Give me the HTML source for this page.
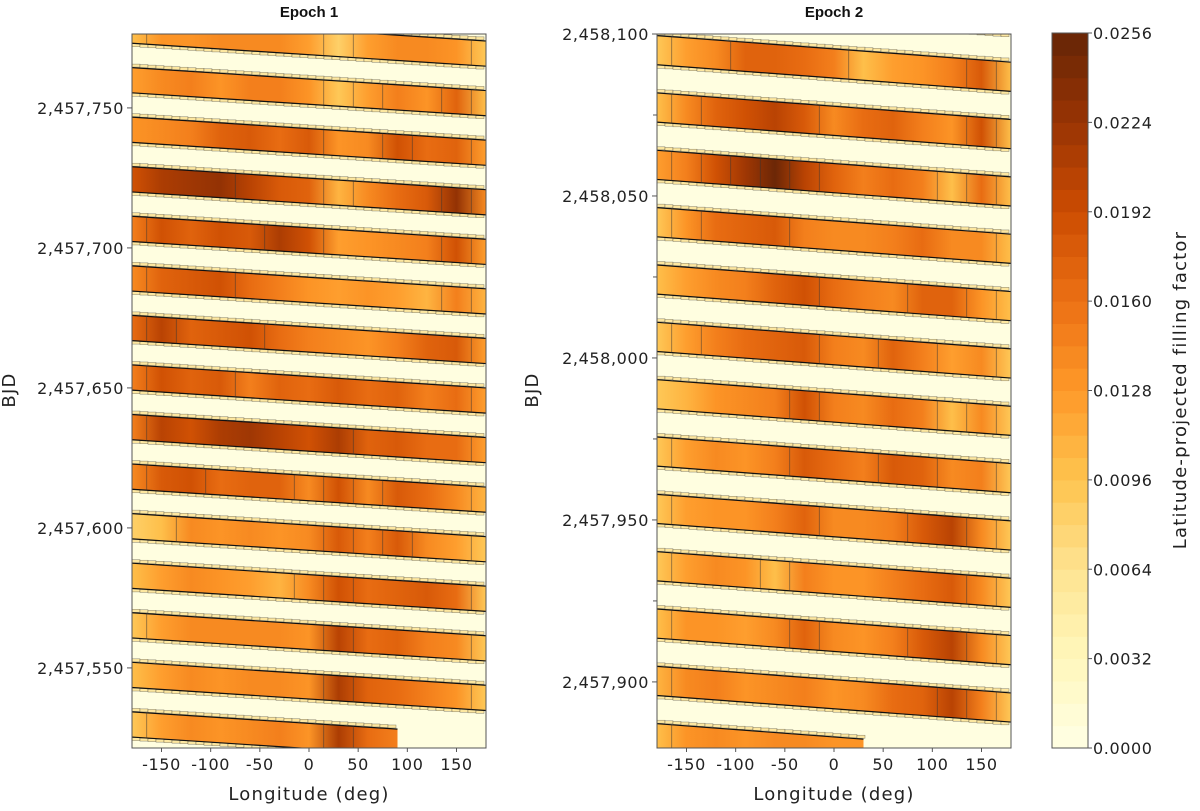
<!DOCTYPE html>
<html><head><meta charset="utf-8">
<style>
html,body{margin:0;padding:0;background:#fff;}
svg{display:block;font-family:"DejaVu Sans","Liberation Sans",sans-serif;}
.tick{font-size:16px;fill:#222;letter-spacing:0.6px;}
.lab{font-size:18px;fill:#222;letter-spacing:1.2px;}
.ttl{font-family:"Liberation Sans Narrow","Liberation Sans",sans-serif;font-weight:bold;font-size:15px;fill:#111;}
</style></head>
<body>
<svg id="chart" width="1200" height="811" viewBox="0 0 1200 811">
<defs id="defs"></defs>
<g id="p1"></g>
<g id="p2"></g>
<g id="cb"></g>
</svg>
<script>
// longitude sample points (deg)
const lons = [-180,-150,-120,-90,-60,-30,0,30,60,90,120,150,180];
// Epoch 1 band values (x1e-3 filling factor), top to bottom; null = no data
const epoch1Bands = [
 [12,12,12,12,12,12,12,12,13,13,14,14,12],
 [10,13,13,14,14,14,12,8,12,14,14,13,9],
 [12,14,15,13,15,15,13,9,12,15,13,17,10],
 [13,14,15,17,18,16,18,13,14,19,16,17,12],
 [19,21,22,23,20,18,17,11,14,16,18,23,14],
 [15,19,17,19,18,21,19,12,13,14,15,19,12],
 [14,17,18,19,16,15,13,12,13,12,11,15,11],
 [16,20,17,18,19,16,15,14,13,15,17,18,12],
 [15,19,17,18,15,17,16,18,16,17,15,16,12],
 [15,20,19,21,22,20,19,21,17,18,16,16,12],
 [14,18,19,16,17,17,14,19,14,18,16,14,11],
 [8,10,14,13,14,13,14,18,15,18,14,12,9],
 [10,12,14,13,12,11,14,19,16,17,18,16,9],
 [9,12,14,14,14,14,13,20,16,17,15,14,9],
 [10,12,14,13,14,14,13,21,17,16,15,13,9],
 [9,12,14,13,14,15,13,21,16,15,null,null,null]
];
// Epoch 2 band values (x1e-3)
const epoch2Bands = [
 [12,12,12,12,12,12,12,14,15,16,20,16,10],
 [9,12,14,17,17,16,15,10,12,13,15,18,10],
 [10,14,17,19,20,18,14,16,17,15,13,19,10],
 [12,15,19,22,25,20,17,15,16,15,10,16,10],
 [9,13,16,17,18,15,14,14,15,16,14,14,10],
 [10,12,14,15,17,19,16,15,14,17,17,13,10],
 [9,12,15,16,17,18,15,14,17,15,12,14,9],
 [9,11,13,14,15,19,15,14,16,15,10,14,9],
 [9,12,14,13,15,18,16,15,18,17,14,15,9],
 [9,12,13,13,15,17,14,14,15,18,20,14,9],
 [9,12,14,13,10,15,13,13,15,16,18,14,9],
 [10,13,13,12,14,17,14,13,15,18,20,14,9],
 [11,14,15,13,14,15,13,14,16,17,20,15,9],
 [10,13,14,13,14,14,13,13,null,null,null,null,null]
];
// band start days (top edge at lon -180) of first band in each epoch
const epoch1Start = [2457799.8];
const epoch2Start = [2458117.2];
const bandPeriod = [17.7];
const bandDrift = [8.2];
const bandWidth = [9.0];
const e1YTicks = [2457550,2457600,2457650,2457700,2457750];
const e2YTicks = [2457900,2457950,2458000,2458050,2458100];
const e2MinorTicks = [2457925,2457975,2458025,2458075];
const xTicks = [-150,-100,-50,0,50,100,150];
const cbTicks = [0,0.0032,0.0064,0.0096,0.0128,0.016,0.0192,0.0224,0.0256];

const NS="http://www.w3.org/2000/svg";
function mk(tag,attrs,parent){const e=document.createElementNS(NS,tag);for(const k in attrs)e.setAttribute(k,attrs[k]);if(parent)parent.appendChild(e);return e;}
const ylorbr=[[255,255,229],[255,247,188],[254,227,145],[254,196,79],[254,153,41],[236,112,20],[204,76,2],[153,52,4],[102,37,6]];
function cmap(t){t=Math.max(0,Math.min(1,t));const p=t*8,i=Math.min(7,Math.floor(p)),f=p-i;const a=ylorbr[i],b=ylorbr[i+1];
 return `rgb(${Math.round(a[0]+(b[0]-a[0])*f)},${Math.round(a[1]+(b[1]-a[1])*f)},${Math.round(a[2]+(b[2]-a[2])*f)})`;}
function colorFor(v){const lvl=Math.min(31,Math.max(0,Math.floor(v/25.6*32)));return cmap((lvl+0.5)/32);}
const defs=document.getElementById('defs');
let gid=0;

function panel(g,bands,start,x0,x1,y0,y1,dTop,dBot,yTicks,minor,title,clipId){
 const X=l=>x0+(l+180)/360*(x1-x0);
 const Y=d=>y0+(dTop-d)/(dTop-dBot)*(y1-y0);
 const cp=mk('clipPath',{id:clipId},defs);mk('rect',{x:x0,y:y0,width:x1-x0,height:y1-y0},cp);
 const bg=mk('rect',{x:x0,y:y0,width:x1-x0,height:y1-y0,fill:colorFor(0)},g);
 
 
 const inner=mk('g',{'clip-path':`url(#${clipId})`},g);
 bands.forEach((vals,k)=>{
  const D=start-bandPeriod[0]*k;
  const top=l=>D-bandDrift[0]*(l+180)/360;
  let last=lons.length-1;while(vals[last]===null)last--;
  const lEnd=lons[last];
  const id='bg'+(gid++);
  const lg=mk('linearGradient',{id:id,gradientUnits:'userSpaceOnUse',x1:X(-180),y1:0,x2:X(180),y2:0},defs);
  vals.forEach((v,i)=>{if(v===null)return;mk('stop',{offset:(lons[i]+180)/360,'stop-color':colorFor(v)},lg);});
  const pts=[[X(-180),Y(top(-180))],[X(lEnd),Y(top(lEnd))],[X(lEnd),Y(top(lEnd)-bandWidth[0])],[X(-180),Y(top(-180)-bandWidth[0])]];
  const band=mk('polygon',{points:pts.map(p=>p.join(',')).join(' '),fill:`url(#${id})`},inner);
  
  
  const step=8;
  for(let x=X(-180);x<X(lEnd)-2;x+=step){
   const l=(x-x0)/(x1-x0)*360-180;
   const yt=Y(top(l)), yb=Y(top(l)-bandWidth[0]);
   mk('rect',{x:x,y:yt-3.5,width:step,height:3,fill:'#fde7a0',stroke:'#333','stroke-width':0.5,'stroke-opacity':0.6},inner);
   mk('rect',{x:x,y:yb+0.5,width:step,height:3,fill:'#fde7a0',stroke:'#333','stroke-width':0.5,'stroke-opacity':0.6},inner);
  }
  mk('line',{x1:X(-180),y1:Y(top(-180)),x2:X(lEnd),y2:Y(top(lEnd)),stroke:'#111','stroke-width':1.2},inner);
  mk('line',{x1:X(-180),y1:Y(top(-180)-bandWidth[0]),x2:X(lEnd),y2:Y(top(lEnd)-bandWidth[0]),stroke:'#111','stroke-width':1.2},inner);
  for(let i=1;i<=last;i++){
   if(vals[i-1]===null)continue;
   const lm=(lons[i-1]+lons[i])/2;
   if(Math.abs(vals[i]-vals[i-1])>=3){
    mk('line',{x1:X(lm),y1:Y(top(lm)),x2:X(lm),y2:Y(top(lm)-bandWidth[0]),stroke:'#333','stroke-width':0.7,'stroke-opacity':0.7},inner);
   }
  }
 });
 const fr=mk('rect',{x:x0,y:y0,width:x1-x0,height:y1-y0,fill:'none',stroke:'#555','stroke-width':1},g);
 
 
 xTicks.forEach(t=>{
  mk('line',{x1:X(t),y1:y1,x2:X(t),y2:y1+4,stroke:'#555'},g);
  const tx=mk('text',{x:X(t),y:y1+22,'text-anchor':'middle',class:'tick'},g);tx.textContent=t;
  
  
 });
 yTicks.forEach(t=>{
  mk('line',{x1:x0-5,y1:Y(t),x2:x0,y2:Y(t),stroke:'#555'},g);
  const tx=mk('text',{x:x0-8,y:Y(t)+6,'text-anchor':'end',class:'tick'},g);tx.textContent=t.toLocaleString('en-US');
  
  
 });
 minor.forEach(t=>{mk('line',{x1:x0-4,y1:Y(t),x2:x0,y2:Y(t),stroke:'#555'},g);});
 const tt=mk('text',{x:(x0+x1)/2,y:17,'text-anchor':'middle',class:'ttl'},g);tt.textContent=title;
 
 
 const xl=mk('text',{x:(x0+x1)/2,y:800,'text-anchor':'middle',class:'lab'},g);xl.textContent='Longitude (deg)';
 
 
 return Y;
}
panel(document.getElementById('p1'),epoch1Bands,epoch1Start[0],132,486,34,748,2457776.4,2457521.4,e1YTicks,[],'Epoch 1','c1');
panel(document.getElementById('p2'),epoch2Bands,epoch2Start[0],657,1011,34,748,2458100,2457879.6,e2YTicks,e2MinorTicks,'Epoch 2','c2');
[[15,390],[538,390]].forEach(p=>{
 const t=mk('text',{x:p[0],y:p[1],transform:`rotate(-90 ${p[0]} ${p[1]})`,'text-anchor':'middle',class:'lab'},document.getElementById('chart'));
 t.textContent='BJD';
 
 
});
const cb=document.getElementById('cb');
const cx0=1052,cx1=1088,cy0=33,cy1=748;
for(let i=0;i<32;i++){
 const h=(cy1-cy0)/32;
 const r=mk('rect',{x:cx0,y:cy1-(i+1)*h,width:cx1-cx0,height:h+0.5,fill:cmap((i+0.5)/32)},cb);
 
 
}
mk('rect',{x:cx0,y:cy0,width:cx1-cx0,height:cy1-cy0,fill:'none',stroke:'#555'},cb);
cbTicks.forEach(v=>{
 const y=cy1-v/0.0256*(cy1-cy0);
 mk('line',{x1:cx1,y1:y,x2:cx1+4,y2:y,stroke:'#555'},cb);
 const t=mk('text',{x:cx1+5,y:y+6,class:'tick'},cb);t.textContent=v.toFixed(4);
 
 
});
const cl=mk('text',{x:1186,y:390,transform:'rotate(-90 1186 390)','text-anchor':'middle',class:'lab'},cb);
cl.textContent='Latitude-projected filling factor';


</script>
</body></html>
